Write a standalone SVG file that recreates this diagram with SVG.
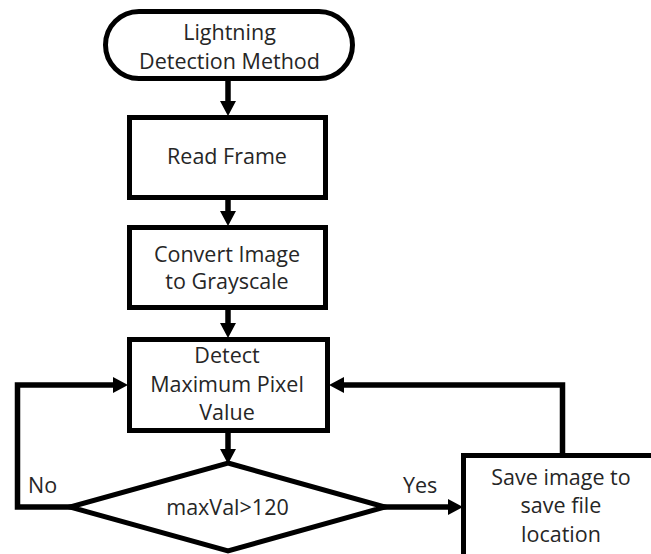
<svg xmlns="http://www.w3.org/2000/svg" width="651" height="554" viewBox="0 0 651 554">
<style>
.shape{fill:#ffffff;stroke:#000000;stroke-width:5}
.conn{fill:none;stroke:#000000;stroke-width:5.5;stroke-linejoin:miter}
.t{font-family:"Open Sans","Liberation Sans",sans-serif;font-size:21.5px;fill:#262626;text-anchor:middle}
.lbl{font-family:"Open Sans","Liberation Sans",sans-serif;font-size:21.5px;fill:#262626}
</style>
<defs>
<marker id="ah" viewBox="0 -8 15 16" markerWidth="15" markerHeight="16" refX="0" refY="0" orient="auto" markerUnits="userSpaceOnUse" overflow="visible">
<path d="M0,-8 L15,0 L0,8 z" fill="#000000"/>
</marker>
</defs>
<rect width="651" height="554" fill="#ffffff"/>
<g id="connectors">
<path class="conn" d="M228,79 V101" marker-end="url(#ah)"/>
<path class="conn" d="M228,198 V211" marker-end="url(#ah)"/>
<path class="conn" d="M228,308 V323" marker-end="url(#ah)"/>
<path class="conn" d="M228,431 V449" marker-end="url(#ah)"/>
<path class="conn" d="M71,507 H17.5 V385 H113" marker-end="url(#ah)"/>
<path class="conn" d="M384,507 H448" marker-end="url(#ah)"/>
<path class="conn" d="M562.5,456 V385 H344" marker-end="url(#ah)"/>
</g>
<g id="start">
<rect class="shape" x="105.5" y="11.5" width="247" height="67" rx="33.5" ry="33.5"/>
<text class="t" x="229.5" y="40">Lightning</text>
<text class="t" x="229.5" y="68.5">Detection Method</text>
</g>
<g id="read">
<rect class="shape" x="129.5" y="117.5" width="196" height="80"/>
<text class="t" x="227" y="164">Read Frame</text>
</g>
<g id="convert">
<rect class="shape" x="129.5" y="227.5" width="196" height="80"/>
<text class="t" x="227" y="262">Convert Image</text>
<text class="t" x="227" y="289">to Grayscale</text>
</g>
<g id="detect">
<rect class="shape" x="129.5" y="339.5" width="198" height="91"/>
<text class="t" x="227" y="363">Detect</text>
<text class="t" x="227" y="392">Maximum Pixel</text>
<text class="t" x="227" y="420">Value</text>
</g>
<g id="decision">
<polygon class="shape" stroke-width="5.5" points="228,463 385,507 228,551 70,507"/>
<text class="t" x="227.5" y="515">maxVal&gt;120</text>
</g>
<g id="save">
<rect class="shape" x="463.5" y="455.5" width="196" height="110"/>
<text class="t" x="561" y="485">Save image to</text>
<text class="t" x="561" y="513">save file</text>
<text class="t" x="561" y="542">location</text>
</g>
<text class="lbl" x="28" y="493">No</text>
<text class="lbl" x="403" y="493">Yes</text>
</svg>
